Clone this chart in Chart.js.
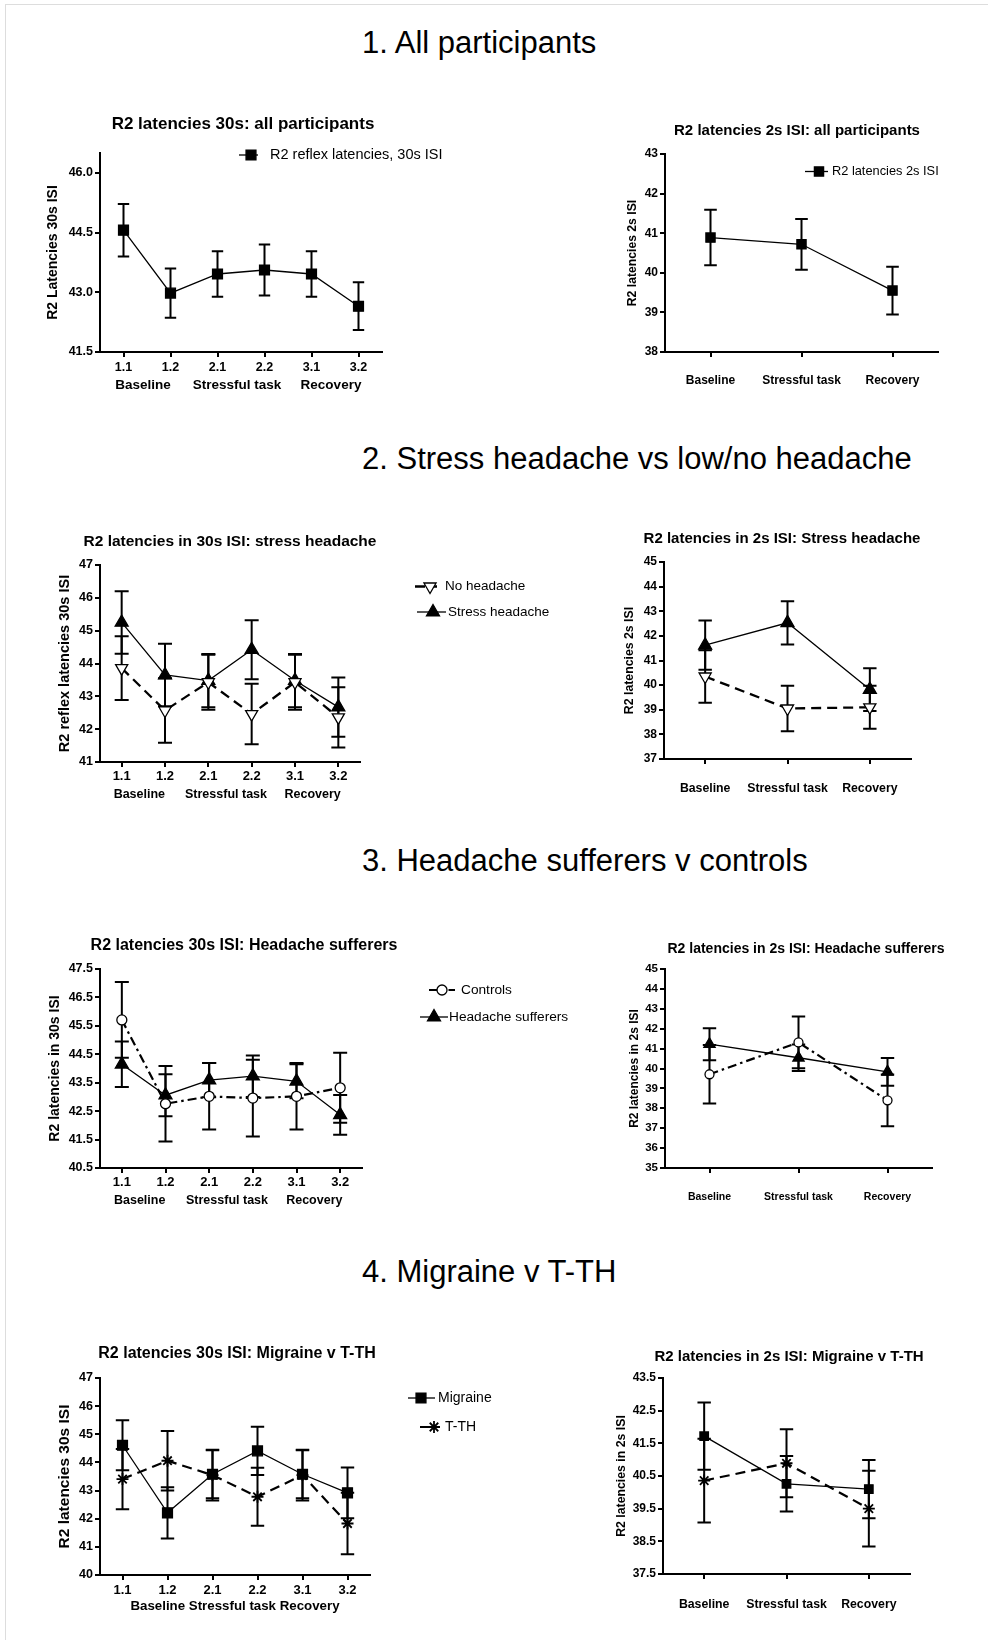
<!DOCTYPE html>
<html>
<head>
<meta charset="utf-8">
<title>R2 latencies</title>
<script src="https://cdn.jsdelivr.net/npm/chart.js@4.4.1/dist/chart.umd.min.js"></script>
<style>
  body { margin: 0; background: #fff; }
  #page { position: relative; width: 988px; height: 1640px; overflow: hidden; background: #fff;
          font-family: "Liberation Sans", Arial, sans-serif; }
  #frame { position: absolute; left: 5px; top: 4px; right: -10px; bottom: -10px;
           border-left: 1px solid #ddd; border-top: 1px solid #ddd; }
  .heading { position: absolute; left: 362px; font-size: 31px; line-height: 31px; color: #000; white-space: nowrap; }
  canvas { position: absolute; left: 0; top: 0; }
</style>
</head>
<body>
<div id="page">
  <div id="frame"></div>
  <div class="heading" style="top:27px">1. All participants</div>
  <div class="heading" style="top:443px">2. Stress headache vs low/no headache</div>
  <div class="heading" style="top:845px">3. Headache sufferers v controls</div>
  <div class="heading" style="top:1256px">4. Migraine v T-TH</div>
</div>
<script>
// Data
const pairLabels = ['1.1', '1.2', '2.1', '2.2', '3.1', '3.2'];
const phaseLabels = ['Baseline', 'Stressful task', 'Recovery'];

// 1. All participants
const all30Mean = [44.56, 42.98, 43.46, 43.56, 43.46, 42.65];
const all30Sem = [0.66, 0.62, 0.57, 0.64, 0.57, 0.60];
const all30Ticks = [41.5, 43.0, 44.5, 46.0];
const all2Mean = [40.89, 40.72, 39.55];
const all2Sem = [0.70, 0.64, 0.60];
const all2Ticks = [38, 39, 40, 41, 42, 43];

// 2. Stress headache vs low/no headache
const noHead30Mean = [43.86, 42.57, 43.43, 42.46, 43.43, 42.36];
const noHead30Sem = [0.97, 0.98, 0.84, 0.92, 0.84, 0.92];
const stress30Mean = [45.25, 43.65, 43.48, 44.42, 43.48, 42.67];
const stress30Sem = [0.95, 0.95, 0.81, 0.90, 0.81, 0.90];
const stress30Ticks = [41, 42, 43, 44, 45, 46, 47];
const noHead2Mean = [40.35, 39.05, 39.10];
const noHead2Sem = [1.07, 0.92, 0.87];
const stress2Mean = [41.62, 42.53, 39.82];
const stress2Sem = [1.00, 0.88, 0.87];
const stress2Ticks = [37, 38, 39, 40, 41, 42, 43, 44, 45];

// 3. Headache sufferers v controls
const controls30Mean = [45.71, 42.76, 43.02, 42.96, 43.02, 43.32];
const controls30Sem = [1.33, 1.33, 1.17, 1.35, 1.17, 1.23];
const sufferers30Mean = [44.15, 43.06, 43.59, 43.73, 43.55, 42.37];
const sufferers30Sem = [0.80, 0.74, 0.60, 0.73, 0.60, 0.70];
const sufferers30Ticks = [40.5, 41.5, 42.5, 43.5, 44.5, 45.5, 46.5, 47.5];
const controls2Mean = [39.71, 41.31, 38.40];
const controls2Sem = [1.47, 1.30, 1.30];
const sufferers2Mean = [41.22, 40.54, 39.83];
const sufferers2Sem = [0.80, 0.67, 0.70];
const sufferers2Ticks = [35, 36, 37, 38, 39, 40, 41, 42, 43, 44, 45];

// 4. Migraine v T-TH
const migraine30Mean = [44.61, 42.21, 43.58, 44.41, 43.58, 42.92];
const migraine30Sem = [0.89, 0.91, 0.85, 0.86, 0.85, 0.90];
const tth30Mean = [43.41, 44.06, 43.55, 42.78, 43.55, 41.83];
const tth30Sem = [1.07, 1.06, 0.90, 1.03, 0.90, 1.09];
const migraine30Ticks = [40, 41, 42, 43, 44, 45, 46, 47];
const migraine2Mean = [41.72, 40.26, 40.10];
const migraine2Sem = [1.03, 0.85, 0.89];
const tth2Mean = [40.36, 40.89, 39.50];
const tth2Sem = [1.28, 1.04, 1.16];
const migraine2Ticks = [37.5, 38.5, 39.5, 40.5, 41.5, 42.5, 43.5];

// Setup
const FONT = '"Liberation Sans", Arial, sans-serif';
const PAGE_W = 988, PAGE_H = 1640;
const page = document.getElementById('page');
Chart.defaults.font.family = FONT;
Chart.defaults.color = '#000';

// error bars drawn from the y scale, under the markers
const errorBars = {
    id: 'errorBars',
    beforeDatasetsDraw(chart, args, opts) {
        const ctx = chart.ctx;
        const y = chart.scales.y;
        chart.data.datasets.forEach((ds, i) => {
            const meta = chart.getDatasetMeta(i);
            ctx.save();
            ctx.strokeStyle = '#000';
            ctx.lineWidth = 2;
            meta.data.forEach((pt, j) => {
                const hi = y.getPixelForValue(ds.data[j] + ds.err[j]);
                const lo = y.getPixelForValue(ds.data[j] - ds.err[j]);
                const w = opts.cap || 6;
                ctx.beginPath();
                ctx.moveTo(pt.x, hi); ctx.lineTo(pt.x, lo);
                ctx.moveTo(pt.x - w, hi); ctx.lineTo(pt.x + w, hi);
                ctx.moveTo(pt.x - w, lo); ctx.lineTo(pt.x + w, lo);
                ctx.stroke();
            });
            ctx.restore();
        });
    }
};

// chart title and hand placed legend
const notes = {
    id: 'notes',
    afterDraw(chart, args, opts) {
        const ctx = chart.ctx;
        ctx.save();
        if (opts.title) {
            ctx.font = 'bold ' + opts.title.size + 'px ' + FONT;
            ctx.fillStyle = '#000';
            ctx.textAlign = 'center';
            ctx.textBaseline = 'alphabetic';
            ctx.fillText(opts.title.text, opts.title.x, opts.title.y);
        }
        (opts.legend || []).forEach(item => {
            const ds = chart.data.datasets[item.ds];
            ctx.strokeStyle = '#000';
            ctx.lineWidth = ds.borderWidth;
            ctx.setLineDash(ds.borderDash || []);
            ctx.beginPath();
            ctx.moveTo(item.x0, item.y);
            ctx.lineTo(item.x1, item.y);
            ctx.stroke();
            ctx.setLineDash([]);
            ctx.fillStyle = ds.pointBackgroundColor;
            ctx.lineWidth = ds.pointBorderWidth;
            Chart.helpers.drawPoint(ctx, {
                pointStyle: ds.pointStyle, rotation: ds.pointRotation || 0,
                radius: ds.pointRadius, borderWidth: ds.pointBorderWidth
            }, item.mx, item.y);
            ctx.fillStyle = '#000';
            ctx.font = opts.legendSize + 'px ' + FONT;
            ctx.textAlign = 'left';
            ctx.textBaseline = 'middle';
            ctx.fillText(ds.label, item.tx, item.y);
        });
        ctx.restore();
    }
};
Chart.register(errorBars, notes);

// marker / line looks
const squareSolid = r => ({ pointStyle: 'rect', pointRadius: r, pointBackgroundColor: '#000', borderWidth: 1.3 });
const triSolid = r => ({ pointStyle: 'triangle', pointRadius: r, pointBackgroundColor: '#000', borderWidth: 1.3 });
const triOpenDashed = r => ({ pointStyle: 'triangle', pointRotation: 180, pointRadius: r, pointBackgroundColor: '#fff',
    borderWidth: 2.3, borderDash: [10, 6] });
const circleDashDot = r => ({ pointStyle: 'circle', pointRadius: r, pointBackgroundColor: '#fff',
    borderWidth: 2.2, borderDash: [9, 4, 2.5, 4] });
const starDashed = r => ({ pointStyle: 'star', pointRadius: r, pointBackgroundColor: '#000',
    borderWidth: 2.2, borderDash: [10, 6], pointBorderWidth: 1.8 });

function series(label, data, err, look) {
    return Object.assign({
        label: label, data: data, err: err, xAxisID: 'x', yAxisID: 'y',
        borderColor: '#000', pointBorderColor: '#000', pointBorderWidth: 1.3,
        tension: 0, fill: false, pointHoverRadius: 0
    }, look);
}

function makeChart(c) {
    const canvas = document.createElement('canvas');
    canvas.width = PAGE_W;
    canvas.height = PAGE_H;
    page.appendChild(canvas);

    const [left, top, right, bottom] = c.plot;
    const yWidth = left - (c.yTitleX - c.yTitleSize * 1.2 / 2);
    const xH = c.xHeight;
    const x2H = c.groups ? 26 : 0;
    const axisLine = { display: true, color: '#000', width: 2 };
    const tickGrid = { display: true, drawOnChartArea: false, drawTicks: true, tickLength: 5, lineWidth: 2, color: '#000' };

    const scales = {
        x: {
            type: 'category', offset: true, grid: tickGrid, border: axisLine,
            ticks: { font: { size: c.xTickSize, weight: 'bold' }, padding: c.xPad, maxRotation: 0, autoSkip: false },
            title: c.xTitle
                ? { display: true, text: c.xTitle, font: { size: c.xTitleSize, weight: 'bold' }, padding: 0 }
                : { display: false },
            afterFit: s => { s.height = xH; }
        },
        y: {
            type: 'linear', min: c.yMin, max: c.yMax, grid: tickGrid, border: axisLine,
            ticks: { font: { size: c.yTickSize, weight: 'bold' }, padding: 2,
                     callback: v => Number(v).toFixed(c.decimals) },
            afterBuildTicks: s => { s.ticks = c.yTicks.map(v => ({ value: v })); },
            title: { display: true, text: c.yTitle, font: { size: c.yTitleSize, weight: 'bold' }, padding: 0 },
            afterFit: s => { s.width = yWidth; }
        }
    };
    if (c.groups) {
        scales.x2 = {
            type: 'category', labels: phaseLabels, offset: true, position: 'bottom',
            grid: { display: false, drawTicks: false }, border: { display: false },
            ticks: { font: { size: c.groupSize, weight: 'bold' }, padding: 2, labelOffset: -4, maxRotation: 0, autoSkip: false },
            afterFit: s => { s.height = x2H; }
        };
    }

    new Chart(canvas, {
        type: 'line',
        data: { labels: c.labels, datasets: c.datasets },
        options: {
            responsive: false,
            animation: false,
            events: [],
            layout: { padding: { left: left - yWidth, top: top, right: PAGE_W - right, bottom: PAGE_H - bottom - xH - x2H } },
            plugins: {
                legend: { display: false },
                tooltip: { enabled: false },
                errorBars: { cap: c.cap },
                notes: { title: c.title, legend: c.legend, legendSize: c.legendSize }
            },
            scales: scales
        }
    });
}

// 1. All participants
makeChart({
    plot: [100, 153, 382, 352], labels: pairLabels, groups: true,
    yMin: 41.5, yMax: 46.5, yTicks: all30Ticks, decimals: 1,
    yTitle: 'R2 Latencies 30s ISI', yTitleSize: 14, yTitleX: 53,
    yTickSize: 12.5, xTickSize: 12.5, xPad: 3, xHeight: 23, groupSize: 13.5, cap: 5.7,
    title: { text: 'R2 latencies 30s: all participants', x: 243, y: 129, size: 17 },
    legendSize: 14.5,
    legend: [{ ds: 0, x0: 239, x1: 258, mx: 251, tx: 270, y: 155 }],
    datasets: [series('R2 reflex latencies, 30s ISI', all30Mean, all30Sem, squareSolid(7))]
});
makeChart({
    plot: [665, 154, 938, 352], labels: phaseLabels,
    yMin: 38, yMax: 43, yTicks: all2Ticks, decimals: 0,
    yTitle: 'R2 latencies 2s ISI', yTitleSize: 12.2, yTitleX: 633,
    yTickSize: 12, xTickSize: 12, xPad: 16, xHeight: 40, cap: 6.3,
    title: { text: 'R2 latencies 2s ISI: all participants', x: 797, y: 135, size: 15 },
    legendSize: 12.8,
    legend: [{ ds: 0, x0: 805, x1: 828, mx: 819, tx: 832, y: 171.5 }],
    datasets: [series('R2 latencies 2s ISI', all2Mean, all2Sem, squareSolid(6.5))]
});

// 2. Stress headache vs low/no headache
makeChart({
    plot: [100, 565, 360, 762], labels: pairLabels, groups: true,
    yMin: 41, yMax: 47, yTicks: stress30Ticks, decimals: 0,
    yTitle: 'R2 reflex latencies 30s ISI', yTitleSize: 14.5, yTitleX: 65,
    yTickSize: 12.5, xTickSize: 13, xPad: 2, xHeight: 23, groupSize: 12.5, cap: 7,
    title: { text: 'R2 latencies in 30s ISI: stress headache', x: 230, y: 546, size: 15.5 },
    legendSize: 13.5,
    legend: [
        { ds: 0, x0: 415, x1: 437, mx: 430, tx: 445, y: 586.5 },
        { ds: 1, x0: 417, x1: 446, mx: 433, tx: 448, y: 612 }
    ],
    datasets: [
        series('No headache', noHead30Mean, noHead30Sem, triOpenDashed(7)),
        series('Stress headache', stress30Mean, stress30Sem, triSolid(7.5))
    ]
});
makeChart({
    plot: [664, 562, 911, 759], labels: phaseLabels,
    yMin: 37, yMax: 45, yTicks: stress2Ticks, decimals: 0,
    yTitle: 'R2 latencies 2s ISI', yTitleSize: 12.3, yTitleX: 630,
    yTickSize: 12, xTickSize: 12.3, xPad: 17, xHeight: 40, cap: 6.7,
    title: { text: 'R2 latencies in 2s ISI: Stress headache', x: 782, y: 543, size: 15 },
    datasets: [
        series('No headache', noHead2Mean, noHead2Sem, triOpenDashed(7)),
        series('Stress headache', stress2Mean, stress2Sem, triSolid(7.5))
    ]
});

// 3. Headache sufferers v controls
makeChart({
    plot: [100, 969, 362, 1168], labels: pairLabels, groups: true,
    yMin: 40.5, yMax: 47.5, yTicks: sufferers30Ticks, decimals: 1,
    yTitle: 'R2 latencies in 30s ISI', yTitleSize: 14, yTitleX: 55,
    yTickSize: 12.5, xTickSize: 13, xPad: 2, xHeight: 23, groupSize: 12.5, cap: 7,
    title: { text: 'R2 latencies 30s ISI: Headache sufferers', x: 244, y: 950, size: 16 },
    legendSize: 13.7,
    legend: [
        { ds: 0, x0: 429, x1: 455, mx: 442, tx: 461, y: 990 },
        { ds: 1, x0: 420, x1: 448, mx: 434, tx: 449, y: 1017 }
    ],
    datasets: [
        series('Controls', controls30Mean, controls30Sem, circleDashDot(5)),
        series('Headache sufferers', sufferers30Mean, sufferers30Sem, triSolid(7.5))
    ]
});
makeChart({
    plot: [665, 969, 932, 1168], labels: phaseLabels,
    yMin: 35, yMax: 45, yTicks: sufferers2Ticks, decimals: 0,
    yTitle: 'R2 latencies in 2s ISI', yTitleSize: 12, yTitleX: 635,
    yTickSize: 11.5, xTickSize: 10.5, xPad: 18, xHeight: 40, cap: 6.7,
    title: { text: 'R2 latencies in 2s ISI: Headache sufferers', x: 806, y: 953, size: 14 },
    datasets: [
        series('Controls', controls2Mean, controls2Sem, circleDashDot(4.5)),
        series('Headache sufferers', sufferers2Mean, sufferers2Sem, triSolid(6.5))
    ]
});

// 4. Migraine v T-TH
makeChart({
    plot: [100, 1378, 370, 1575], labels: pairLabels,
    yMin: 40, yMax: 47, yTicks: migraine30Ticks, decimals: 0,
    yTitle: 'R2 latencies 30s ISI', yTitleSize: 15.5, yTitleX: 64.5,
    yTickSize: 12.5, xTickSize: 13, xPad: 3, xHeight: 39.5, cap: 6.7,
    xTitle: 'Baseline Stressful task Recovery', xTitleSize: 13.3,
    title: { text: 'R2 latencies 30s ISI: Migraine v T-TH', x: 237, y: 1358, size: 16 },
    legendSize: 14,
    legend: [
        { ds: 0, x0: 408, x1: 435, mx: 421, tx: 438, y: 1398 },
        { ds: 1, x0: 420, x1: 438, mx: 434, tx: 445, y: 1427 }
    ],
    datasets: [
        series('Migraine', migraine30Mean, migraine30Sem, squareSolid(7)),
        series('T-TH', tth30Mean, tth30Sem, starDashed(6))
    ]
});
makeChart({
    plot: [663, 1378, 910, 1574], labels: phaseLabels,
    yMin: 37.5, yMax: 43.5, yTicks: migraine2Ticks, decimals: 1,
    yTitle: 'R2 latencies in 2s ISI', yTitleSize: 12.3, yTitleX: 622,
    yTickSize: 12, xTickSize: 12.3, xPad: 18, xHeight: 40, cap: 6.7,
    title: { text: 'R2 latencies in 2s ISI: Migraine v T-TH', x: 789, y: 1361, size: 15 },
    datasets: [
        series('Migraine', migraine2Mean, migraine2Sem, squareSolid(6)),
        series('T-TH', tth2Mean, tth2Sem, starDashed(6))
    ]
});
</script>
</body>
</html>
